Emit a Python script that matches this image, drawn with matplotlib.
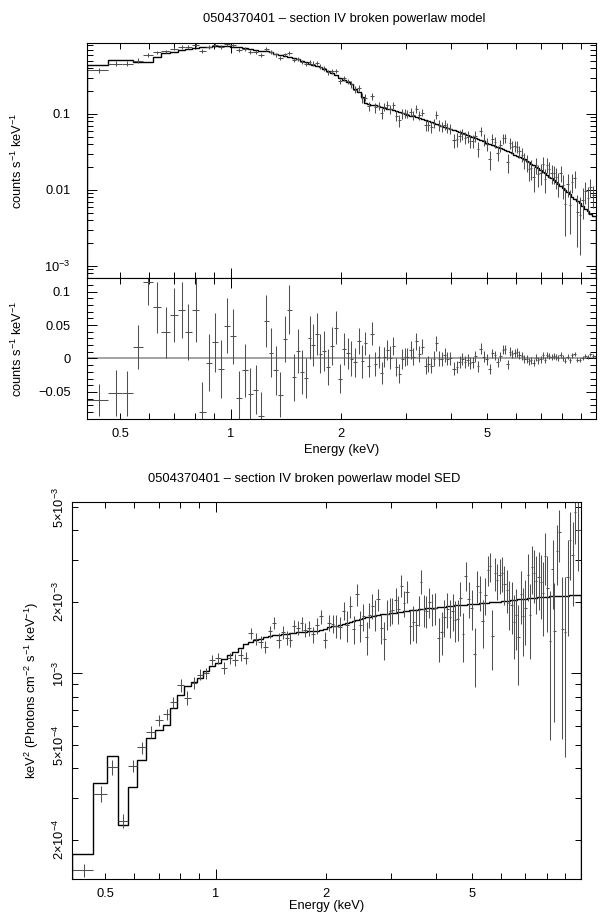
import numpy as np
import matplotlib
matplotlib.use("Agg")
import matplotlib.pyplot as plt
from matplotlib.ticker import FixedLocator, FuncFormatter, NullFormatter

plt.rcParams['font.family'] = ['Liberation Sans', 'DejaVu Sans']
plt.rcParams['mathtext.fontset'] = 'custom'
plt.rcParams['mathtext.rm'] = 'Liberation Sans'
plt.rcParams['mathtext.it'] = 'Liberation Sans:italic'
plt.rcParams['axes.unicode_minus'] = True

# ---------------- data ----------------
energy = [
    0.438, 0.486, 0.522, 0.558, 0.596, 0.628, 0.665, 0.700, 0.735, 0.766,
    0.803, 0.837, 0.871, 0.906, 0.941, 0.977, 1.016, 1.055, 1.092, 1.131,
    1.170, 1.210, 1.248, 1.288, 1.327, 1.366, 1.404, 1.445, 1.485, 1.522,
    1.562, 1.600, 1.640, 1.677, 1.716, 1.756, 1.800, 1.840, 1.890, 1.936,
    1.990, 2.040, 2.094, 2.125, 2.180, 2.235, 2.285, 2.330, 2.380, 2.430,
    2.480, 2.530, 2.580, 2.625, 2.676, 2.720, 2.770, 2.830, 2.880, 2.940,
    2.985, 3.030, 3.100, 3.150, 3.210, 3.260, 3.330, 3.400, 3.460, 3.520,
    3.590, 3.630, 3.700, 3.760, 3.830, 3.900, 3.970, 4.070, 4.140, 4.210,
    4.280, 4.360, 4.430, 4.500, 4.570, 4.650, 4.720, 4.810, 4.900, 4.990,
    5.090, 5.170, 5.260, 5.350, 5.440, 5.530, 5.600, 5.690, 5.770, 5.860,
    5.950, 6.040, 6.130, 6.230, 6.320, 6.420, 6.500, 6.600, 6.700, 6.790,
    6.900, 7.000, 7.100, 7.200, 7.300, 7.400, 7.500, 7.600, 7.700, 7.830,
    7.940, 8.040, 8.170, 8.300, 8.400, 8.540, 8.670, 8.820, 8.980, 9.120,
    9.270, 9.420, 9.580, 9.710]

count_model = [
    0.437, 0.513, 0.513, 0.487, 0.487, 0.568, 0.627, 0.660, 0.694, 0.717,
    0.740, 0.752, 0.765, 0.780, 0.785, 0.780, 0.770, 0.755, 0.735, 0.715,
    0.700, 0.680, 0.665, 0.645, 0.625, 0.600, 0.580, 0.560, 0.540, 0.525,
    0.505, 0.485, 0.458, 0.440, 0.430, 0.412, 0.390, 0.365, 0.345, 0.325,
    0.300, 0.282, 0.262, 0.245, 0.215, 0.196, 0.169, 0.141, 0.137, 0.133,
    0.130, 0.127, 0.124, 0.121, 0.118, 0.115, 0.112, 0.108, 0.105, 0.102,
    0.0995, 0.0975, 0.0950, 0.0935, 0.0910, 0.0890, 0.0865, 0.0835, 0.0810, 0.0785,
    0.0760, 0.0745, 0.0720, 0.0700, 0.0680, 0.0660, 0.0640, 0.0612, 0.0593, 0.0575,
    0.0560, 0.0543, 0.0527, 0.0512, 0.0497, 0.0480, 0.0467, 0.0452, 0.0436, 0.0421,
    0.0408, 0.0395, 0.0382, 0.0370, 0.0358, 0.0346, 0.0336, 0.0324, 0.0314, 0.0303,
    0.0293, 0.0283, 0.0273, 0.0262, 0.0252, 0.0241, 0.0232, 0.0222, 0.0212, 0.0203,
    0.0193, 0.0184, 0.0175, 0.0166, 0.0158, 0.0150, 0.0142, 0.0135, 0.0128, 0.0120,
    0.0113, 0.0107, 0.0100, 0.0093, 0.0088, 0.0082, 0.0077, 0.0072, 0.0067, 0.0062,
    0.0057, 0.0053, 0.0049, 0.0046]

residual = [
    -0.062, -0.052, -0.052, 0.017, 0.115, 0.0765, 0.039, 0.065, 0.072, 0.039,
    0.073, -0.0805, -0.0065, 0.024, -0.0156, 0.049, 0.033, -0.059, -0.018, -0.053,
    -0.047, -0.086, 0.056, 0.0086, -0.018, -0.054, 0.029, 0.073, -0.028, 0.011,
    -0.020, -0.029, 0.031, 0.0196, 0.037, 0.007, 0.011, -0.0126, 0.0186, 0.046,
    -0.030, 0.0136, 0.0075, -0.0005, -0.0055, 0.026, -0.0045, 0.0226, -0.0106, 0.037,
    -0.008, 0.002, -0.0216, 0.0025, 0.0126, 0.001, 0.0186, -0.013, -0.0227, -0.0005,
    0.0025, 0.0025, 0.0126, 0.0025, 0.026, 0.007, 0.0176, -0.0116, -0.009, -0.0106,
    -0.0005, 0.0226, -0.0005, -0.0015, 0.0045, -0.0005, 0.0, -0.0156, -0.0126, -0.0055,
    -0.0015, -0.0055, -0.0025, -0.0065, -0.006, 0.0035, -0.0116, 0.0146, 0.0025, -0.0015,
    -0.0156, 0.0075, 0.0045, -0.006, 0.003, 0.013, 0.014, -0.009, 0.010, 0.007,
    0.0085, 0.009, 0.005, 0.003, -0.0005, -0.001, -0.0045, -0.003, -0.0065, 0.001,
    -0.003, -0.0015, 0.0045, -0.0025, 0.0055, 0.004, 0.0025, 0.003, 0.002, 0.0005,
    0.0055, 0.001, -0.0035, 0.0028, -0.0025, 0.0045, 0.0065, -0.002, -0.002, 0.0012,
    0.004, 0.0025, 0.006, 0.004]

residual_err = [
    0.0244, 0.0347, 0.0335, 0.0332, 0.035, 0.0378, 0.0385, 0.040, 0.042, 0.042,
    0.049, 0.045, 0.0425, 0.044, 0.0433, 0.041, 0.0415, 0.040, 0.039, 0.039,
    0.0365, 0.036, 0.0395, 0.037, 0.0365, 0.033, 0.035, 0.0365, 0.035, 0.033,
    0.033, 0.030, 0.032, 0.0315, 0.0315, 0.029, 0.030, 0.0265, 0.0285, 0.025,
    0.021, 0.024, 0.023, 0.0265, 0.0217, 0.0194, 0.024, 0.0176, 0.017, 0.0176,
    0.0184, 0.0166, 0.0159, 0.0146, 0.0156, 0.0171, 0.014, 0.0138, 0.0146, 0.0146,
    0.0138, 0.0126, 0.0133, 0.013, 0.0126, 0.012, 0.0113, 0.012, 0.012, 0.011,
    0.011, 0.0113, 0.011, 0.0105, 0.0105, 0.010, 0.010, 0.0096, 0.0095, 0.0093,
    0.009, 0.009, 0.0088, 0.0087, 0.0085, 0.0083, 0.0082, 0.0083, 0.008, 0.0078,
    0.0070, 0.0072, 0.0071, 0.007, 0.0069, 0.0068, 0.0067, 0.0066, 0.0065, 0.0064,
    0.0063, 0.0062, 0.0061, 0.006, 0.0058, 0.0057, 0.0056, 0.0055, 0.0054, 0.0053,
    0.0052, 0.0051, 0.005, 0.0049, 0.0048, 0.0047, 0.0046, 0.0045, 0.0044, 0.0043,
    0.0042, 0.0041, 0.0040, 0.0039, 0.0037, 0.0036, 0.0035, 0.0034, 0.0033, 0.0032,
    0.0031, 0.0030, 0.0029, 0.0028]

sed_model = [
    1.74e-4, 3.48e-4, 4.49e-4, 2.32e-4, 3.32e-4, 4.31e-4, 5.36e-4, 5.78e-4, 6.10e-4, 7.17e-4,
    8.11e-4, 8.84e-4, 9.20e-4, 9.60e-4, 1.02e-3, 1.07e-3, 1.11e-3, 1.145e-3, 1.19e-3, 1.23e-3,
    1.28e-3, 1.33e-3, 1.36e-3, 1.38e-3, 1.40e-3, 1.42e-3, 1.43e-3, 1.445e-3, 1.455e-3, 1.46e-3,
    1.47e-3, 1.475e-3, 1.48e-3, 1.49e-3, 1.495e-3, 1.50e-3, 1.505e-3, 1.51e-3, 1.51e-3, 1.52e-3,
    1.54e-3, 1.56e-3, 1.575e-3, 1.585e-3, 1.605e-3, 1.62e-3, 1.635e-3, 1.65e-3, 1.665e-3, 1.68e-3,
    1.695e-3, 1.71e-3, 1.72e-3, 1.73e-3, 1.74e-3, 1.75e-3, 1.76e-3, 1.77e-3, 1.775e-3, 1.785e-3,
    1.79e-3, 1.795e-3, 1.80e-3, 1.81e-3, 1.82e-3, 1.825e-3, 1.835e-3, 1.845e-3, 1.85e-3, 1.855e-3,
    1.86e-3, 1.865e-3, 1.87e-3, 1.875e-3, 1.88e-3, 1.885e-3, 1.89e-3, 1.90e-3, 1.905e-3, 1.91e-3,
    1.915e-3, 1.92e-3, 1.925e-3, 1.93e-3, 1.935e-3, 1.94e-3, 1.94e-3, 1.945e-3, 1.95e-3, 1.955e-3,
    1.96e-3, 1.965e-3, 1.97e-3, 1.975e-3, 1.98e-3, 1.985e-3, 1.99e-3, 1.99e-3, 1.995e-3, 2.0e-3,
    2.005e-3, 2.01e-3, 2.015e-3, 2.02e-3, 2.025e-3, 2.03e-3, 2.035e-3, 2.04e-3, 2.045e-3, 2.05e-3,
    2.055e-3, 2.06e-3, 2.065e-3, 2.07e-3, 2.075e-3, 2.08e-3, 2.08e-3, 2.085e-3, 2.09e-3, 2.095e-3,
    2.10e-3, 2.10e-3, 2.105e-3, 2.11e-3, 2.11e-3, 2.115e-3, 2.12e-3, 2.12e-3, 2.125e-3, 2.125e-3,
    2.13e-3, 2.13e-3, 2.135e-3, 2.14e-3]

x_range = (0.406, 9.9)
title_top = "0504370401 \u2013 section IV broken powerlaw model"
title_sed = "0504370401 \u2013 section IV broken powerlaw model SED"

# ---------------- derived quantities ----------------
E = np.array(energy)
cm = np.array(count_model)
res = np.array(residual)
rerr = np.array(residual_err)
sm = np.array(sed_model)

edges = np.concatenate([[x_range[0]], np.sqrt(E[:-1] * E[1:]), [x_range[1]]])
xerr = np.vstack([E - edges[:-1], edges[1:] - E])

counts = cm + res
sed = sm * counts / cm
sed_err = sm * rerr / cm

def clip_err(val, err, floor):
    lo = np.minimum(err, val - floor)
    return np.vstack([lo, err])

# ---------------- figure ----------------
W, H = 605, 919
fig = plt.figure(figsize=(W / 100, H / 100), dpi=100)

def fx(px):
    return px / W

def fy(py):
    return 1 - py / H

L1, R1 = 87.3, 595.7
ax1 = fig.add_axes([fx(L1), fy(278), fx(R1 - L1), (278 - 42.7) / H])
ax2 = fig.add_axes([fx(L1), fy(419), fx(R1 - L1), (419 - 278) / H])
L3, R3 = 72.2, 580.6
ax3 = fig.add_axes([fx(L3), fy(879), fx(R3 - L3), (879 - 502) / H])

FS = 9.3
data_col = '#505050'
lw_data = 0.75

def style_xaxis(ax, labels):
    ax.set_xscale('log')
    ax.set_xlim(*x_range)
    ax.xaxis.set_major_locator(FixedLocator([1, 10]))
    minors = [v * d for d in (0.1, 1) for v in range(2, 10)
              if x_range[0] <= v * d <= x_range[1]]
    ax.xaxis.set_minor_locator(FixedLocator(sorted(set(round(m, 3) for m in minors))))
    if labels:
        lab = {1.0: '1'}
        ax.xaxis.set_major_formatter(FuncFormatter(lambda v, p: lab.get(round(v, 3), '')))
        mlab = {0.5: '0.5', 2.0: '2', 5.0: '5'}
        ax.xaxis.set_minor_formatter(FuncFormatter(lambda v, p: mlab.get(round(v, 3), '')))
    else:
        ax.xaxis.set_major_formatter(NullFormatter())
        ax.xaxis.set_minor_formatter(NullFormatter())

def style_ticks(ax, ypad):
    ax.tick_params(which='both', direction='in', top=True, right=True,
                   width=0.7, labelsize=FS, colors='black')
    ax.tick_params(which='major', length=7)
    ax.tick_params(which='minor', length=4)
    ax.tick_params(axis='x', which='both', pad=6.5)
    ax.tick_params(axis='y', which='both', pad=ypad)
    for s in ax.spines.values():
        s.set_linewidth(0.8)

# ---- top panel: counts spectrum ----
ax1.errorbar(E, counts, xerr=xerr, yerr=clip_err(counts, rerr, 1e-5),
             fmt='none', ecolor=data_col, elinewidth=lw_data, capsize=0)
ax1.stairs(cm, edges, color='black', linewidth=1.0)
ax1.set_yscale('log')
ax1.set_ylim(6.95e-4, 0.867)
style_xaxis(ax1, False)
ax1.yaxis.set_major_locator(FixedLocator([1e-4, 1e-3, 1e-2, 1e-1, 1.0]))
ax1.yaxis.set_minor_locator(FixedLocator([v * d for d in (1e-4, 1e-3, 1e-2, 1e-1) for v in range(2, 10)]))
ylab1 = {1e-3: r'10$^{-3}$', 1e-2: '0.01', 1e-1: '0.1'}
ax1.yaxis.set_major_formatter(FuncFormatter(
    lambda v, p: next((t for k, t in ylab1.items() if abs(v - k) / k < 1e-6), '')))
ax1.yaxis.set_minor_formatter(NullFormatter())
style_ticks(ax1, 12)
ax1.set_ylabel(r'counts s$^{-1}$ keV$^{-1}$', fontsize=FS)
ax1.yaxis.set_label_coords(-0.122, 0.5)

# ---- residual panel ----
ax2.axhline(0, color='#8a8a8a', linewidth=1.1, zorder=1)
ax2.errorbar(E, res, xerr=xerr, yerr=rerr, fmt='none', ecolor=data_col,
             elinewidth=lw_data, capsize=0, zorder=2)
ax2.set_ylim(-0.0906, 0.1204)
style_xaxis(ax2, True)
ax2.yaxis.set_major_locator(FixedLocator([-0.05, 0, 0.05, 0.1]))
ax2.yaxis.set_minor_locator(FixedLocator([round(-0.09 + 0.01 * i, 2) for i in range(22)]))
ax2.yaxis.set_major_formatter(FuncFormatter(
    lambda v, p: {-0.05: '\u22120.05', 0.0: '0', 0.05: '0.05', 0.1: '0.1'}.get(round(v, 2), '')))
style_ticks(ax2, 12)
ax2.set_ylabel(r'counts s$^{-1}$ keV$^{-1}$', fontsize=FS)
ax2.yaxis.set_label_coords(-0.122, 0.5)
ax2.set_xlabel('Energy (keV)', fontsize=FS)
ax2.xaxis.set_label_coords(0.5, -0.18)

# ---- SED panel ----
ax3.errorbar(E, sed, xerr=xerr, yerr=clip_err(sed, sed_err, 1e-6),
             fmt='none', ecolor=data_col, elinewidth=lw_data, capsize=0)
ax3.stairs(sm, edges, color='black', linewidth=1.0)
ax3.set_yscale('log')
ax3.set_ylim(1.37e-4, 5.25e-3)
style_xaxis(ax3, True)
ax3.yaxis.set_major_locator(FixedLocator([1e-4, 1e-3, 1e-2]))
ax3.yaxis.set_minor_locator(FixedLocator([v * d for d in (1e-4, 1e-3) for v in range(2, 10)]))
ax3.yaxis.set_major_formatter(FuncFormatter(
    lambda v, p: r'10$^{-3}$' if abs(v - 1e-3) < 1e-9 else ''))
sedlab = {2e-4: r'2$\times$10$^{-4}$', 5e-4: r'5$\times$10$^{-4}$',
          2e-3: r'2$\times$10$^{-3}$', 5e-3: r'5$\times$10$^{-3}$'}
ax3.yaxis.set_minor_formatter(FuncFormatter(
    lambda v, p: next((t for k, t in sedlab.items() if abs(v - k) / k < 1e-6), '')))
style_ticks(ax3, 4)
ax3.tick_params(axis='y', which='both', labelrotation=90)
for lbl in ax3.get_yticklabels(which='both'):
    lbl.set_va('center')
ax3.set_ylabel(r'keV$^{2}$ (Photons cm$^{-2}$ s$^{-1}$ keV$^{-1}$)', fontsize=FS)
ax3.yaxis.set_label_coords(-0.062, 0.5)
ax3.set_xlabel('Energy (keV)', fontsize=FS)
ax3.xaxis.set_label_coords(0.5, -0.055)

fig.text(fx(344), fy(19.3), title_top, ha='center', va='center', fontsize=FS)
fig.text(fx(304), fy(479.3), title_sed, ha='center', va='center', fontsize=FS)

fig.savefig('out.png', dpi=100)
